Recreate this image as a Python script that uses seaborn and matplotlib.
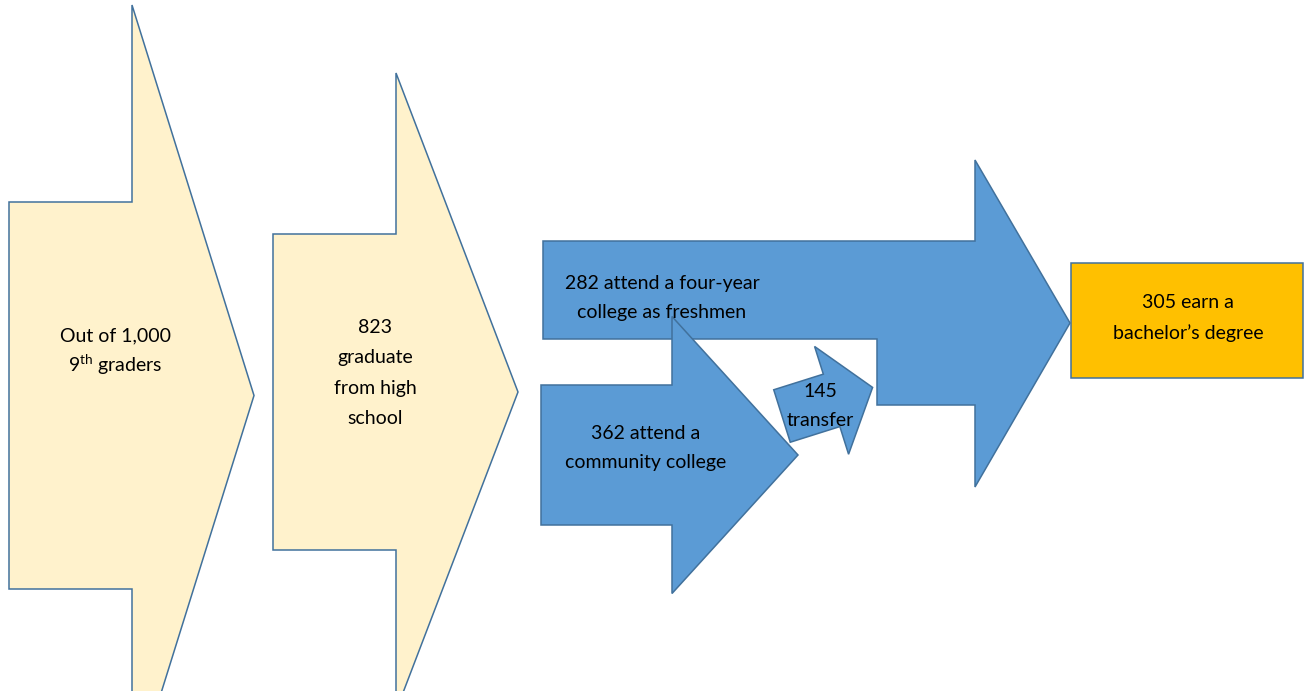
"""
Pathway from 9th grade to a bachelor's degree, drawn as block arrows
"""
import numpy as np
import matplotlib.pyplot as plt
from matplotlib.patches import Polygon
import seaborn as sns

# counts and labels for each step
step_counts = [1000, 823, 282, 362, 145, 305]
step_labels = [
    "Out of 1,000\n9$^{\\mathrm{th}}$ graders",
    "823\ngraduate\nfrom high\nschool",
    "282 attend a four-year\ncollege as freshmen",
    "362 attend a\ncommunity college",
    "145\ntransfer",
    "305 earn a\nbachelor\u2019s degree",
]

# layout (pixel space of the 1306x691 canvas)
W, H = 1306, 691
CREAM, BLUE, GOLD, EDGE = "#FFF2CC", "#5B9BD5", "#FFC000", "#41719C"
text_xy = [(115, 352), (375, 373), (662, 298), (646, 448), (820, 406), (1188, 318)]
line_gap = [1.4, 1.95, 1.85, 1.85, 1.85, 1.85]


def arrow_pts(x0, y0, angle, length, head_len, body_half, head_half):
    """Block arrow outline, starting at (x0, y0) and pointing along angle (deg)."""
    a = np.radians(angle)
    d = np.array([np.cos(a), np.sin(a)])
    n = np.array([-d[1], d[0]])
    p0 = np.array([x0, y0])
    hb = p0 + d * (length - head_len)
    tip = p0 + d * length
    return [p0 - n * body_half, hb - n * body_half, hb - n * head_half, tip,
            hb + n * head_half, hb + n * body_half, p0 + n * body_half]


sns.set_style("white")
plt.rcParams["font.family"] = ["Lato", "DejaVu Sans"]
plt.rcParams["mathtext.fontset"] = "custom"
plt.rcParams["mathtext.rm"] = "Lato"

fig = plt.figure(figsize=(W / 100, H / 100), dpi=100)
ax = fig.add_axes([0, 0, 1, 1])
ax.set_xlim(0, W)
ax.set_ylim(H, 0)
ax.axis("off")

shapes = [
    (arrow_pts(9, 395.5, 0, 245, 122, 193.5, 390.5), CREAM),
    (arrow_pts(273, 392, 0, 245, 122, 158, 319), CREAM),
    # four-year path joined with the final arrow
    ([(543, 241), (975, 241), (975, 160), (1070, 323), (975, 487),
      (975, 405), (877, 405), (877, 339), (543, 339)], BLUE),
    (arrow_pts(541, 455, 0, 257, 126, 70, 138.5), BLUE),
    (arrow_pts(782, 416, -17.5, 95, 43, 27.5, 56.5), BLUE),
    ([(1071, 263), (1303, 263), (1303, 378), (1071, 378)], GOLD),
]
for i, (pts, col) in enumerate(shapes):
    ax.add_patch(Polygon(pts, closed=True, facecolor=col, edgecolor=EDGE,
                         linewidth=1.1, joinstyle="miter", zorder=i + 1))

for (x, y), lab, ls in zip(text_xy, step_labels, line_gap):
    ax.text(x, y, lab, ha="center", va="center", fontsize=14,
            linespacing=ls, color="black", zorder=20)

fig.savefig("out.png", dpi=100)
